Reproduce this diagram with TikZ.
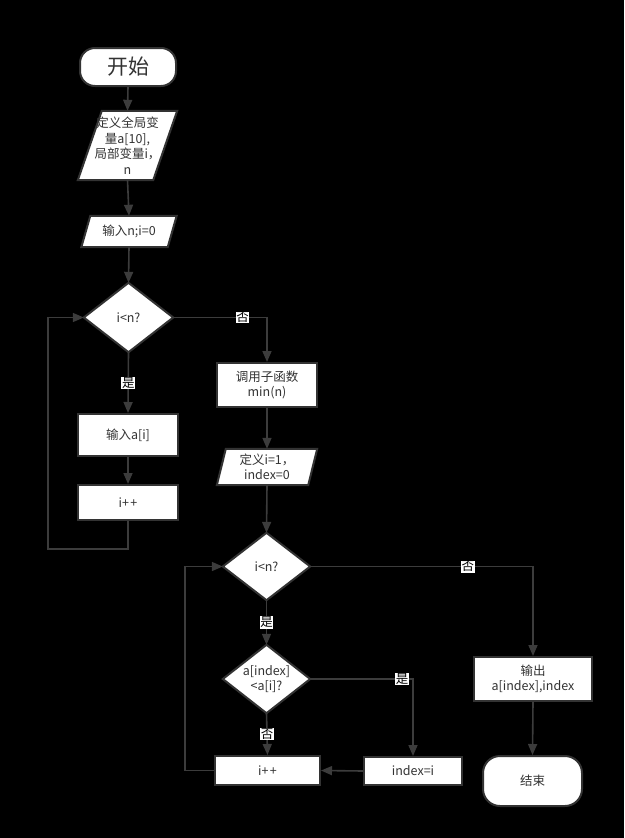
\documentclass[tikz,border=0pt]{standalone}
\usepackage{fontspec}
\setmainfont{Noto Sans CJK SC}
\usetikzlibrary{arrows.meta,calc}
\pgfdeclarelayer{canvas}
\pgfdeclarelayer{background}
\pgfsetlayers{canvas,background,main}
\definecolor{edge}{HTML}{3C3C3C}
\definecolor{bord}{HTML}{333333}
\definecolor{txt}{HTML}{333333}
\tikzset{
  base/.style={inner sep=0pt, align=center, text=txt, font=\fontsize{12.5}{15.5}\selectfont},
  boxnode/.style={base, draw=bord, line width=2pt, fill=white, minimum width=#1},
  roundnode/.style={base, draw=bord, line width=2pt, fill=white, rounded corners=15pt},
  holder/.style={base, minimum width=#1},
  shapefill/.style={draw=bord, line width=2pt, fill=white, line join=miter},
  conn/.style={draw=edge, line width=1.6pt, -{Triangle[length=11pt,width=9pt]}},
  lab/.style={fill=white, text=black, inner sep=0.6pt, font=\fontsize{12.5}{13}\selectfont},
}
\newcommand{\paraback}[2]{%
  \begin{pgfonlayer}{background}
  \path[shapefill] ([xshift=#2]#1.north west) -- (#1.north east) -- ([xshift=-#2]#1.south east) -- (#1.south west) -- cycle;
  \end{pgfonlayer}}
\newcommand{\diamback}[1]{%
  \begin{pgfonlayer}{background}
  \path[shapefill] (#1.north) -- (#1.east) -- (#1.south) -- (#1.west) -- cycle;
  \end{pgfonlayer}}
\newcommand{\pp}{i+\kern1.5pt+}
\begin{document}
\begin{tikzpicture}[x=1pt,y=-1pt]
\begin{pgfonlayer}{canvas}
\fill[black] (0,0) rectangle (624,838);
\end{pgfonlayer}
\useasboundingbox (0,0) rectangle (624,838);

% nodes
\node[roundnode, minimum width=96pt, minimum height=38pt, rounded corners=15pt, font=\fontsize{21}{24}\selectfont] (start) at (128,67) {开始};
\node[holder=99pt, minimum height=69pt] (p1) at (127.5,145.5) {定义全局变\\量a[10],\\局部变量i，\\n};
\paraback{p1}{24pt}
\node[holder=95pt, minimum height=31pt] (p2) at (129,231.5) {输入n;i=0};
\paraback{p2}{9pt}
\node[holder=89pt, minimum height=69pt] (d1) at (128.5,317.5) {i<n?};
\diamback{d1}
\node[boxnode=100pt, minimum height=42pt] (b1) at (128,435) {输入a[i]};
\node[boxnode=100pt, minimum height=35pt] (b2) at (128,502.5) {\pp};
\node[boxnode=100pt, minimum height=44pt] (b3) at (267,385) {调用子函数\\min(n)};
\node[holder=100pt, minimum height=36pt] (p3) at (267,467) {定义i=1，\\index=0};
\paraback{p3}{9pt}
\node[holder=87pt, minimum height=67pt] (d2) at (266.5,566.5) {i<n?};
\diamback{d2}
\node[holder=87pt, minimum height=68pt] (d3) at (266.5,679) {a[index]\\<a[i]?};
\diamback{d3}
\node[boxnode=105pt, minimum height=29pt] (b4) at (267.5,770.5) {\pp};
\node[boxnode=98pt, minimum height=28pt] (b5) at (413,771) {index=i};
\node[boxnode=118pt, minimum height=44pt] (b6) at (533,679) {输出\\a[index],index};
\node[roundnode, minimum width=99pt, minimum height=50pt, rounded corners=17pt] (end) at (532.5,781) {结束};

\coordinate (loop1) at (48,549);
\coordinate (loop2) at (185,770.5);

% connectors
\draw[conn] (start.south) -- (p1.north);
\draw[conn] (p1.south) -- (p2.north);
\draw[conn] (p2.south) -- (d1.north);
\draw[conn] (d1.south) -- node[lab] {是} (b1.north);
\draw[conn] (b1.south) -- (b2.north);
\draw[conn] (b2.south) |- (loop1) |- (d1.west);
\draw[conn] (d1.east) -| node[lab, pos=0.37] {否} (b3.north);
\draw[conn] (b3.south) -- (p3.north);
\draw[conn] (p3.south) -- (d2.north);
\draw[conn] (d2.south) -- node[lab] {是} (d3.north);
\draw[conn] (d3.south) -- node[lab] {否} (b4.north);
\draw[conn] (d3.east) -| node[lab, pos=0.447] {是} (b5.north);
\draw[conn] (b5.west) -- (b4.east);
\draw[conn] (b4.west) -- (loop2) |- (d2.west);
\draw[conn] (d2.east) -| node[lab, pos=0.354] {否} (b6.north);
\draw[conn] (b6.south) -- (end.north);
\end{tikzpicture}
\end{document}
